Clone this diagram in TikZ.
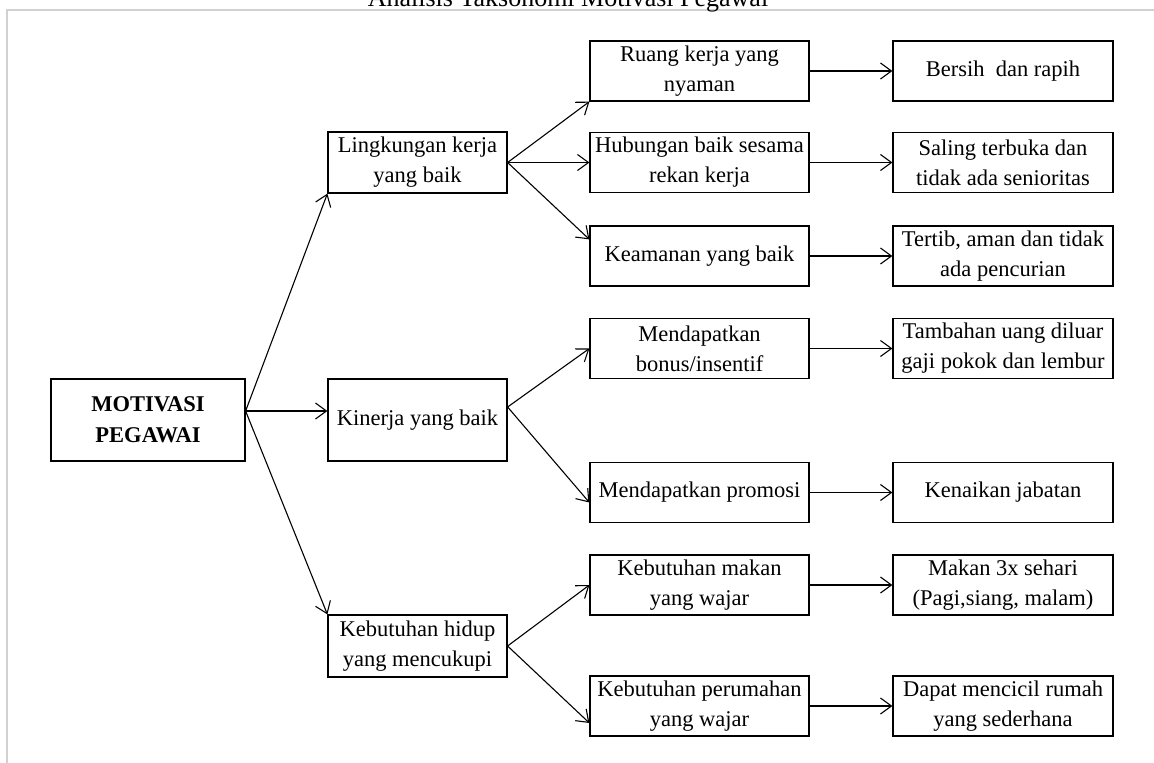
\documentclass[tikz,border=0pt]{standalone}
\usepackage{fontspec}
\setmainfont{Liberation Serif}
\usetikzlibrary{arrows.meta}

\begin{document}
\begin{tikzpicture}[x=1pt, y=-1pt,
  kotak/.style={draw, line width=1.2pt, align=center, inner sep=0pt,
    font=\fontsize{22.5}{30}\selectfont},
  induk/.style={kotak, minimum width=194pt, minimum height=82pt, font=\fontsize{22.5}{31}\selectfont\bfseries},
  tingkat2/.style={kotak, minimum width=179pt, minimum height=61pt},
  tingkat3/.style={kotak, minimum width=219pt, minimum height=60pt},
  tingkat4/.style={kotak, minimum width=220pt, minimum height=60pt},
  panah/.style={line width=1.1pt, -{Straight Barb[length=11pt, width=16pt]}}]
  \useasboundingbox (0,0) rectangle (1154,763);

  % bingkai dan judul
  \draw[black!18, line width=1.5pt] (7,763) -- (7,10) -- (1154,10);
  \node[anchor=base, font=\fontsize{26}{30}\selectfont] (judul) at (568,6) {Analisis Taksonomi Motivasi Pegawai};

  \node[induk] (motivasi) at (148,420) {MOTIVASI\\PEGAWAI};

  \node[tingkat2] (lingkungan) at (417.5,162.5) {Lingkungan kerja\\yang baik};
  \node[tingkat2, minimum height=82pt] (kinerja) at (417.5,420) {Kinerja yang baik};
  \node[tingkat2, minimum height=62pt] (kebutuhan) at (417.5,646) {Kebutuhan hidup\\yang mencukupi};

  \node[tingkat3] (ruang) at (699.5,71) {Ruang kerja yang\\nyaman};
  \node[tingkat3] (hubungan) at (699.5,162.5) {Hubungan baik sesama\\rekan kerja};
  \node[tingkat3] (keamanan) at (699.5,256) {Keamanan yang baik};
  \node[tingkat3] (bonus) at (699.5,348.5) {Mendapatkan\\bonus/insentif};
  \node[tingkat3] (promosi) at (699.5,492.5) {Mendapatkan promosi};
  \node[tingkat3] (makan) at (699.5,585) {Kebutuhan makan\\yang wajar};
  \node[tingkat3] (perumahan) at (699.5,706) {Kebutuhan perumahan\\yang wajar};

  \node[tingkat4] (bersih) at (1003,71) {Bersih\ \ dan rapih};
  \node[tingkat4] (terbuka) at (1003,162.5) {Saling terbuka dan\\tidak ada senioritas};
  \node[tingkat4] (tertib) at (1003,256) {Tertib, aman dan tidak\\ada pencurian};
  \node[tingkat4] (tambahan) at (1003,348.5) {Tambahan uang diluar\\gaji pokok dan lembur};
  \node[tingkat4] (jabatan) at (1003,492.5) {Kenaikan jabatan};
  \node[tingkat4] (sehari) at (1003,585) {Makan 3x sehari\\(Pagi,siang, malam)};
  \node[tingkat4] (rumah) at (1003,706) {Dapat mencicil rumah\\yang sederhana};

  % panah dari motivasi
  \draw[panah] ([yshift=9pt]motivasi.east) -- (lingkungan.south west);
  \draw[panah] ([yshift=9pt]motivasi.east) -- ([yshift=9pt]kinerja.west);
  \draw[panah] ([yshift=9pt]motivasi.east) -- (kebutuhan.north west);

  \draw[panah] (lingkungan.east) -- (ruang.south west);
  \draw[panah] (lingkungan.east) -- (hubungan.west);
  \draw[panah] (lingkungan.east) -- ([yshift=-14pt]keamanan.north west);

  \draw[panah] ([yshift=13pt]kinerja.east) -- (bonus.west);
  \draw[panah] ([yshift=13pt]kinerja.east) -- ([yshift=-10pt]promosi.west);

  \draw[panah] (kebutuhan.east) -- (makan.west);
  \draw[panah] (kebutuhan.east) -- ([yshift=-17pt]perumahan.west);

  % panah ke kolom kanan
  \draw[panah] (ruang.east) -- (bersih.west);
  \draw[panah] (hubungan.east) -- (terbuka.west);
  \draw[panah] (keamanan.east) -- (tertib.west);
  \draw[panah] (bonus.east) -- (tambahan.west);
  \draw[panah] (promosi.east) -- (jabatan.west);
  \draw[panah] (makan.east) -- (sehari.west);
  \draw[panah] (perumahan.east) -- (rumah.west);
\end{tikzpicture}
\end{document}
